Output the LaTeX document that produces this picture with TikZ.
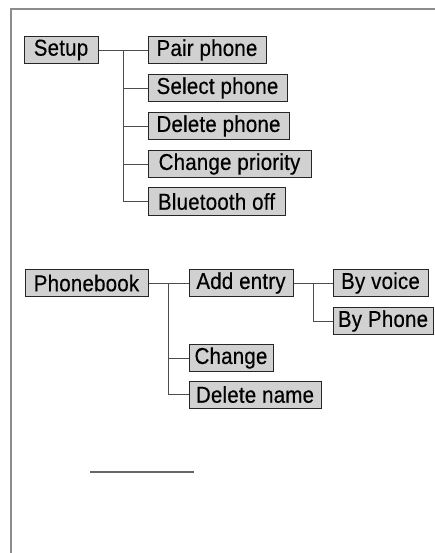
\documentclass[tikz,border=0pt]{standalone}
\usepackage{fontspec}
\setmainfont{Liberation Sans}[LetterSpace=1,FakeBold=0.4]
\usetikzlibrary{shadows}
\newcommand{\boxtxt}[1]{\scalebox{1}[1.12]{#1}}
\begin{document}
\begin{tikzpicture}[x=1pt,y=-1pt,
  box/.style={draw=black!85, line width=1pt, fill=black!18, inner sep=0pt,
    minimum height=27pt, font=\fontsize{20.5}{22}\selectfont,
    drop shadow={shadow xshift=0.9pt, shadow yshift=-0.9pt, fill=black!80, opacity=1}},
  conn/.style={draw=black!70, line width=0.9pt},
  frame/.style={draw=black!45, line width=2.5pt}]
\useasboundingbox (0,0) rectangle (435,553);
\fill[white] (0,0) rectangle (435,553);
\draw[frame] (435,9) -- (11,9) -- (11,553);
% Setup
\node[box, minimum width=74pt] (setup) at (61,50) {\boxtxt{Setup}};
\node[box, minimum width=118pt] (pair) at (207,50) {\boxtxt{Pair phone}};
\node[box, minimum width=139pt] (select) at (217.5,88) {\boxtxt{Select phone}};
\node[box, minimum width=141pt] (delete) at (218.5,126) {\boxtxt{Delete phone}};
\node[box, minimum width=163pt] (prio) at (229.5,164) {\boxtxt{Change priority}};
\node[box, minimum width=137pt] (bt) at (216.5,201.5) {\boxtxt{Bluetooth off}};
\coordinate (st) at (123,50);
\draw[conn] (setup.east) -- (pair.west);
\draw[conn] (st) |- (bt.west);
\draw[conn] (st |- select.west) -- (select.west);
\draw[conn] (st |- delete.west) -- (delete.west);
\draw[conn] (st |- prio.west) -- (prio.west);
% Phonebook
\node[box, minimum width=123pt] (pb) at (86.5,283) {\boxtxt{Phonebook}};
\node[box, minimum width=104pt] (add) at (241,283) {\boxtxt{Add entry}};
\node[box, minimum width=84pt] (chg) at (231,358) {\boxtxt{Change}};
\node[box, minimum width=132pt] (del) at (255,394.5) {\boxtxt{Delete name}};
\node[box, minimum width=95pt] (voice) at (380.5,283) {\boxtxt{By voice}};
\node[box, minimum width=100pt] (phone) at (383,321) {\boxtxt{By Phone}};
\coordinate (pt) at (168,283);
\draw[conn] (pb.east) -- (add.west);
\draw[conn] (pt) |- (del.west);
\draw[conn] (pt |- chg.west) -- (chg.west);
\coordinate (at) at (313,283);
\draw[conn] (add.east) -- (voice.west);
\draw[conn] (at) |- (phone.west);
% separator line
\coordinate (l1) at (90,472);
\coordinate (l2) at (194,472);
\draw[draw=black!60, line width=1.3pt] (l1) -- (l2);
\end{tikzpicture}
\end{document}
